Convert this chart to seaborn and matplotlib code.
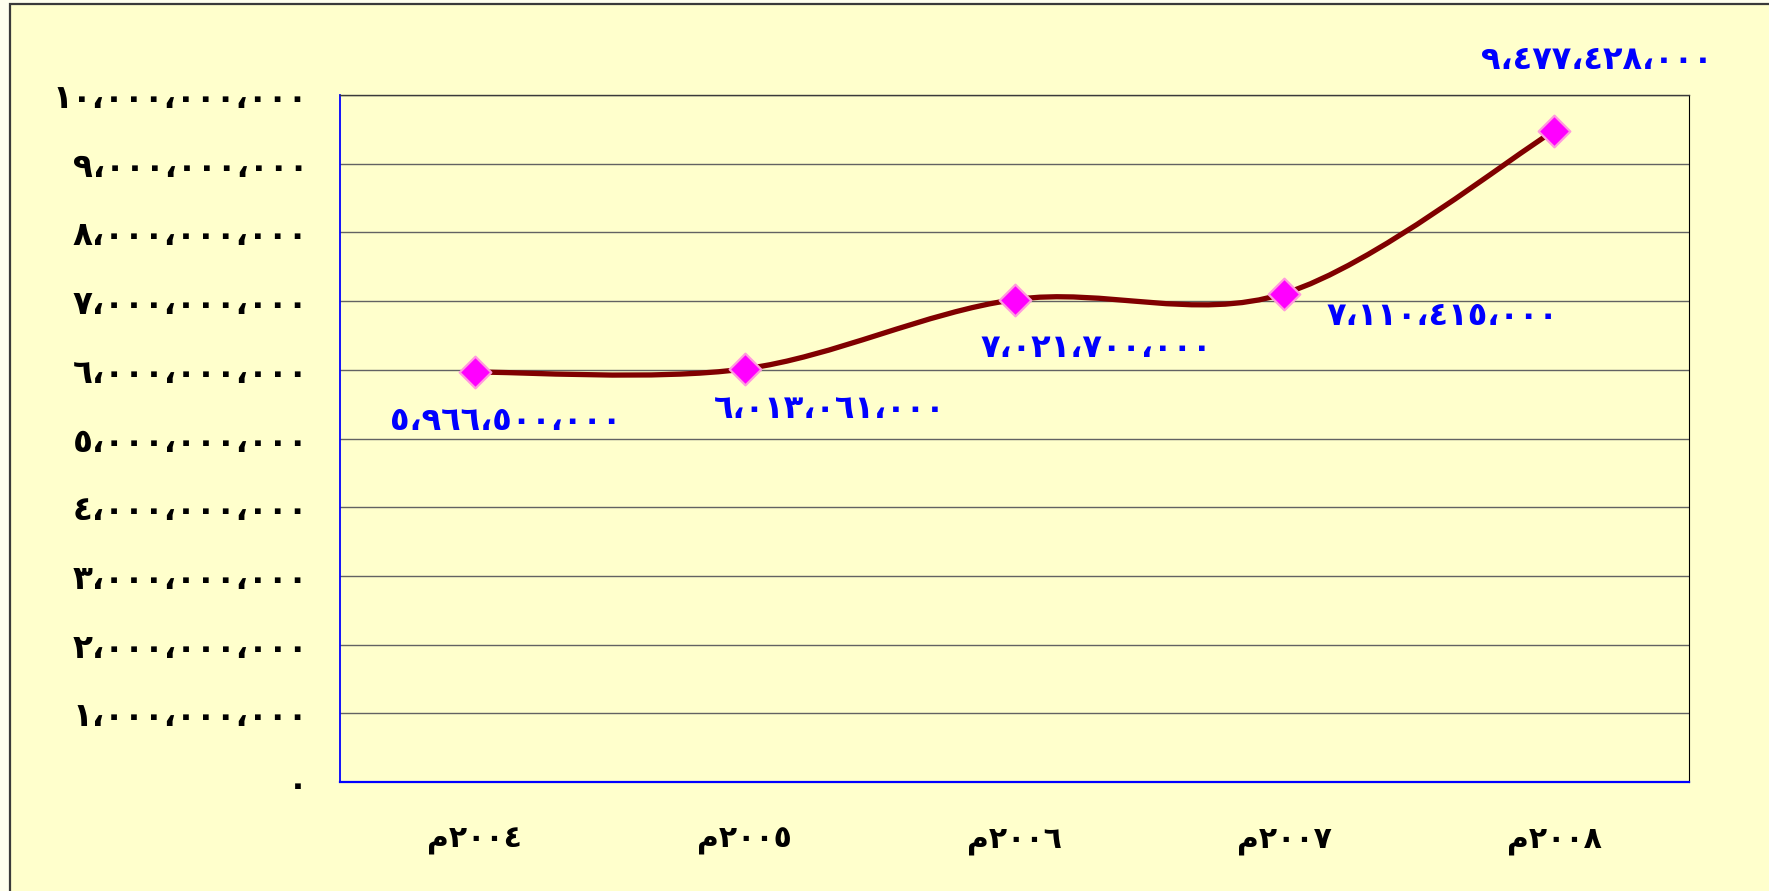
import numpy as np
import pandas as pd
import matplotlib
matplotlib.use("Agg")
import matplotlib.pyplot as plt
import seaborn as sns
from matplotlib.path import Path
from matplotlib.patches import PathPatch, Rectangle
from matplotlib.ticker import FixedLocator, FuncFormatter, NullFormatter

# ---------------- data ----------------
years = ["م٢٠٠٤", "م٢٠٠٥", "م٢٠٠٦", "م٢٠٠٧", "م٢٠٠٨"]
values = [5966500000, 6013061000, 7021700000, 7110415000, 9477428000]
y_ticks = [0, 1000000000, 2000000000, 3000000000, 4000000000, 5000000000,
           6000000000, 7000000000, 8000000000, 9000000000, 10000000000]

# label offsets (pixels, right / down) – style only
label_offsets = [(31, 49), (85, 41), (82, 49), (158, 23), (43, -70)]

AR = str.maketrans("0123456789,", "٠١٢٣٤٥٦٧٨٩،")


def ar(v):
    return f"{int(round(v)):,}".translate(AR)


sns.set_style("white")
plt.rcParams["font.family"] = ["DejaVu Sans"]

W, H = 1769, 891
fig = plt.figure(figsize=(W / 100, H / 100), dpi=100, facecolor="#FFFFEE")
fig.patches.append(Rectangle((10 / W, -0.1), 1.2, (H - 4) / H + 0.1,
                             transform=fig.transFigure, facecolor="#FFFFCC",
                             edgecolor="#3A3A3A", lw=1.6, zorder=-10))

ax = fig.add_axes([340 / W, (H - 782) / H, (1689 - 340) / W, (782 - 95) / H])
ax.set_zorder(1)
ax.set_facecolor("#FFFFCC")

xs = np.arange(len(years)) + 0.5
df = pd.DataFrame({"x": xs, "value": values, "year": years})

# smoothed line (Excel-like Catmull-Rom bezier through the data points)
pts = np.column_stack([df["x"].to_numpy(float), df["value"].to_numpy(float)])
n = len(pts)
verts = [pts[0]]
codes = [Path.MOVETO]
for i in range(n - 1):
    p0 = pts[max(i - 1, 0)]
    p1 = pts[i]
    p2 = pts[i + 1]
    p3 = pts[min(i + 2, n - 1)]
    c1 = p1 + (p2 - p0) / 6.0
    c2 = p2 - (p3 - p1) / 6.0
    verts += [c1, c2, p2]
    codes += [Path.CURVE4] * 3
ax.add_patch(PathPatch(Path(verts, codes), facecolor="none", edgecolor="#800000",
                       lw=3.8, zorder=3, capstyle="round", joinstyle="round"))

sns.scatterplot(data=df, x="x", y="value", marker="D", s=260, color="#FF00FF",
                edgecolor="#FF99DD", linewidth=1.6, zorder=4, ax=ax, legend=False)

for (x, v), (dx, dy) in zip(zip(xs, values), label_offsets):
    ax.annotate(ar(v), (x, v), xytext=(dx * 0.72, -dy * 0.72),
                textcoords="offset points", ha="center", va="center",
                color="#0000FF", fontweight="bold", fontsize=23, zorder=5,
                annotation_clip=False)

ax.set_xlim(0, len(years))
ax.set_ylim(0, 10000000000)

ax.yaxis.set_major_locator(FixedLocator(y_ticks))
ax.yaxis.set_major_formatter(FuncFormatter(lambda v, p: ar(v)))
ax.xaxis.set_major_locator(FixedLocator(np.arange(len(years) + 1)))
ax.xaxis.set_major_formatter(NullFormatter())
ax.xaxis.set_minor_locator(FixedLocator(xs))
ax.xaxis.set_minor_formatter(FuncFormatter(lambda v, p: years[int(v)]))

ax.tick_params(axis="y", which="major", direction="out", length=8, width=1,
               color="#0000FF", pad=15, labelsize=23.5, labelcolor="black")
ax.tick_params(axis="x", which="major", direction="out", length=8, width=1,
               color="#0000FF")
ax.tick_params(axis="x", which="minor", length=0, pad=32, labelsize=21.5,
               labelcolor="black")
for lab in ax.get_yticklabels() + ax.get_xticklabels(minor=True):
    lab.set_fontweight("bold")

ax.grid(axis="y", color="#626262", lw=1.0, zorder=1)
ax.grid(axis="x", visible=False)
ax.set_axisbelow(True)
ax.set_xlabel("")
ax.set_ylabel("")

ax.spines["left"].set_color("#0000FF")
ax.spines["left"].set_linewidth(1.3)
ax.spines["bottom"].set_color("#0000FF")
ax.spines["bottom"].set_linewidth(1.6)
ax.spines["top"].set_color("#3A3A3A")
ax.spines["top"].set_linewidth(1.0)
ax.spines["right"].set_color("#000000")
ax.spines["right"].set_linewidth(0.8)
for s in ax.spines.values():
    s.set_visible(True)

fig.savefig("out.png", dpi=100, facecolor=fig.get_facecolor())
